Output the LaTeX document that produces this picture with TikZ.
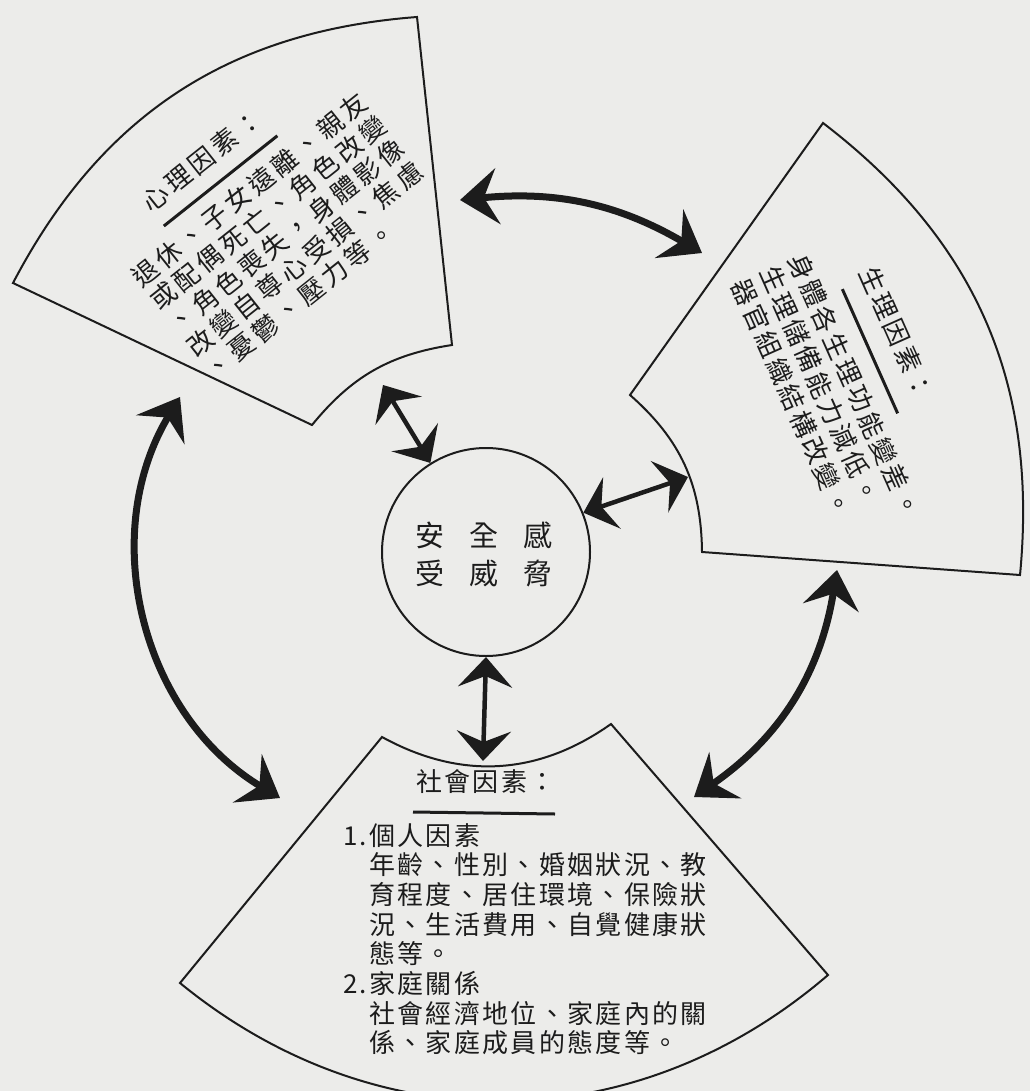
\documentclass[tikz,border=0pt]{standalone}
\usepackage{fontspec}
\setmainfont{Noto Sans CJK TC}
\newfontfamily\cjkS[LetterSpace=9]{Noto Sans CJK TC}
\newfontfamily\cjkP[LetterSpace=14]{Noto Sans CJK TC}
\newfontfamily\cjkQ[LetterSpace=11]{Noto Sans CJK TC}
\usetikzlibrary{arrows.meta}
\definecolor{bgc}{RGB}{236,236,234}
\definecolor{ink}{RGB}{28,28,28}
\newcommand\linesblock[2]{\vtop{\baselineskip=#1\lineskiplimit=-\maxdimen\lineskip=0pt #2}}
\tikzset{
  fan/.style={draw=ink, line width=2pt, line join=miter},
  stxt/.style={inner sep=0pt, text=ink, anchor=base west, font=\cjkS\fontsize{26pt}{30pt}\selectfont},
  ptxt/.style={inner sep=0pt, text=ink, anchor=base west, font=\cjkP\fontsize{26pt}{30pt}\selectfont},
  qtxt/.style={inner sep=0pt, text=ink, anchor=base west, font=\cjkQ\fontsize{26pt}{30pt}\selectfont},
  ctxt/.style={inner sep=0pt, text=ink, font=\fontsize{29pt}{39pt}\selectfont},
  uline/.style={draw=ink, line width=3pt},
  bigarrow/.style={draw=ink, line width=7pt,
    {Stealth[length=38pt,width=56pt,inset=14pt]}-{Stealth[length=38pt,width=56pt,inset=14pt]}},
  smallarrow/.style={draw=ink, line width=4.5pt,
    {Stealth[length=30pt,width=54pt,inset=11pt]}-{Stealth[length=30pt,width=54pt,inset=11pt]}}
}
\begin{document}
\begin{tikzpicture}[x=1pt,y=1pt]
\useasboundingbox (0,0) rectangle (1030,-1091);
\fill[bgc] (0,0) rectangle (1030,-1091);

% fans
\draw[fan] (417,-17) to[bend right=29] (13,-283) -- (312,-425) to[bend left=21] (452,-345) -- cycle;
\draw[fan] (630,-395) to[bend left=24] (702,-552) -- (1020,-575) to[bend right=29] (823,-123) -- cycle;
\draw[fan] (382,-737) to[bend right=32] (611,-724) -- (828,-975) to[bend left=40] (180,-983) -- cycle;

% centre circle
\node[circle, draw=ink, line width=2pt, minimum size=208pt, inner sep=0pt] (center) at (486,-552) {};
\node[ctxt] (c1) at (484,-535) {安\hspace{25pt}全\hspace{25pt}感};
\node[ctxt] (c2) at (484,-574) {受\hspace{25pt}威\hspace{25pt}脅};

% psychological text
\begin{scope}[shift={(145,-273)}, rotate=38.5, transform shape]
  \node[ptxt] (psyText) at (-13,43) {\linesblock{29.5pt}{%
    \hbox{\hskip55pt 心理因素：}\vskip23.5pt
    \hbox{退休、子女遠離、親友}
    \hbox{或配偶死亡、角色改變}
    \hbox{、角色喪失，身體影像}
    \hbox{改變自尊心受損、焦慮}
    \hbox{、憂鬱、壓力等。}}};
  \draw[uline] (44,25) -- (189,25);
\end{scope}

% physiological text
\begin{scope}[shift={(801.7,-266.7)}, rotate=-66, transform shape]
  \node[qtxt] (phyText) at (-13,50) {\linesblock{31pt}{%
    \hbox{\hskip41pt 生理因素：}\vskip29pt
    \hbox{身體各生理功能變差。}
    \hbox{生理儲備能力減低。}
    \hbox{器官組織結構改變。}}};
  \draw[uline] (37,28) -- (173,28);
\end{scope}

% social text
\node[stxt] (socTitle) at (416,-791) {社會因素：};
\draw[uline] (413,-812) -- (555,-814);
\node[stxt] (socText) at (343,-845) {\linesblock{29.7pt}{%
    \hbox{\hbox to 26pt{1.\hss}個人因素}
    \hbox{\hskip26pt 年齡、性別、婚姻狀況、教}
    \hbox{\hskip26pt 育程度、居住環境、保險狀}
    \hbox{\hskip26pt 況、生活費用、自覺健康狀}
    \hbox{\hskip26pt 態等。}
    \hbox{\hbox to 26pt{2.\hss}家庭關係}
    \hbox{\hskip26pt 社會經濟地位、家庭內的關}
    \hbox{\hskip26pt 係、家庭成員的態度等。}}};

% arrow end points
\coordinate (psyTop) at (460,-200);
\coordinate (phyTop) at (702,-253);
\coordinate (psyLow) at (180,-397);
\coordinate (socLeft) at (280,-798);
\coordinate (phyLow) at (837,-570);
\coordinate (socRight) at (694,-797);
\coordinate (psyIn) at (383,-385);
\coordinate (phyIn) at (688,-477);
\coordinate (socIn) at (483,-761);

% big curved arrows
\draw[bigarrow] (psyTop) to[bend left=18] (phyTop);
\draw[bigarrow] (psyLow) to[bend right=45] (socLeft);
\draw[bigarrow] (phyLow) to[bend left=23] (socRight);

% straight arrows to the centre
\draw[smallarrow] (psyIn) -- (center.122);
\draw[smallarrow] (center.22) -- (phyIn);
\draw[smallarrow] (center.270) -- (socIn);
\end{tikzpicture}
\end{document}
